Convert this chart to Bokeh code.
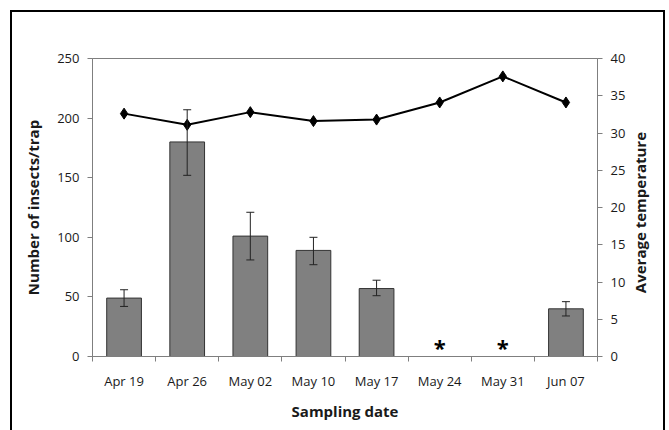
import math
from bokeh.plotting import figure
from bokeh.models import (Range1d, LinearAxis, FixedTicker, ColumnDataSource, Whisker, TeeHead)
from bokeh.core.properties import value
from bokeh.embed import file_html
from bokeh.resources import INLINE

dates = ["Apr 19", "Apr 26", "May 02", "May 10", "May 17", "May 24", "May 31", "Jun 07"]
insects = [49, 180, 101, 89, 57, None, None, 40]
err_low = [42, 152, 81, 77, 51, None, None, 34]
err_high = [56, 207, 121, 100, 64, None, None, 46]
temperature = [32.6, 31.1, 32.8, 31.6, 31.8, 34.1, 37.6, 34.1]
no_data = ["May 24", "May 31"]
left_title = "Number of insects/trap"
right_title = "Average temperature"
x_title = "Sampling date"

FONT = "Open Sans"
AX = "#7f7f7f"
TXT = "#1a1a1a"

xs = [i + 0.5 for i in range(len(dates))]
bar_idx = [i for i, v in enumerate(insects) if v is not None]

p = figure(width=655, height=420, output_backend="svg", toolbar_location=None,
           x_range=Range1d(0, len(dates)), y_range=Range1d(0, 250),
           min_border_left=80, min_border_right=70, min_border_top=46, min_border_bottom=76,
           margin=(10, 0, 0, 10),
           styles={"border-top": "2px solid black", "border-left": "2px solid black",
                   "border-right": "2px solid black", "box-sizing": "border-box"})
p.extra_y_ranges = {"temp": Range1d(0, 40)}
p.xgrid.visible = False
p.ygrid.visible = False
p.outline_line_color = AX
p.outline_line_width = 1

bars = ColumnDataSource(dict(x=[xs[i] for i in bar_idx], top=[insects[i] for i in bar_idx],
                             lo=[err_low[i] for i in bar_idx], hi=[err_high[i] for i in bar_idx]))
p.vbar(x="x", top="top", bottom=0, width=0.55, source=bars, fill_color="#808080",
       line_color="#333333", line_width=1)
w = Whisker(base="x", lower="lo", upper="hi", source=bars, line_color="#222222", line_width=1,
            level="annotation",
            upper_head=TeeHead(size=8, line_color="#222222", line_width=1),
            lower_head=TeeHead(size=8, line_color="#222222", line_width=1))
p.add_layout(w)

p.line(xs, temperature, y_range_name="temp", line_color="black", line_width=2)
p.scatter(xs, temperature, y_range_name="temp", marker="diamond", size=11,
          fill_color="black", line_color="black")

star_x = [xs[dates.index(d)] for d in no_data]
p.text(star_x, [8] * len(star_x), text=["*"] * len(star_x), text_align="center",
       text_baseline="middle", text_font=value(FONT), text_font_size="22px",
       text_font_style="bold", text_color="black")

# x axis
xa = p.xaxis[0]
xa.ticker = FixedTicker(ticks=xs, minor_ticks=list(range(len(dates) + 1)))
xa.major_label_overrides = {x: d for x, d in zip(xs, dates)}
xa.major_tick_out = 0
xa.major_tick_in = 0
xa.minor_tick_out = 5
xa.minor_tick_in = 0
xa.axis_label = x_title

ya = p.yaxis[0]
ya.ticker = FixedTicker(ticks=[0, 50, 100, 150, 200, 250])
ya.axis_label = left_title

yr = LinearAxis(y_range_name="temp", ticker=FixedTicker(ticks=list(range(0, 45, 5))))
p.add_layout(yr, "right")

# right-hand title drawn as a single rotated tick label (reads bottom-to-top)
title_anchor = 8.5
yt = LinearAxis(y_range_name="temp", ticker=FixedTicker(ticks=[title_anchor]))
yt.major_label_overrides = {title_anchor: right_title}
yt.major_label_orientation = math.pi / 2
yt.axis_line_color = None
yt.major_tick_line_color = None
yt.minor_tick_line_color = None
yt.major_tick_out = 0
yt.major_tick_in = 0
yt.major_label_standoff = 12
yt.major_label_text_font = FONT
yt.major_label_text_font_size = "15px"
yt.major_label_text_font_style = "bold"
yt.major_label_text_color = TXT
p.add_layout(yt, "right")

for ax in [xa, ya, yr]:
    ax.axis_line_color = AX
    ax.major_tick_line_color = AX
    ax.minor_tick_line_color = AX if ax is xa else None
    ax.major_label_text_font = FONT
    ax.major_label_text_font_size = "13px"
    ax.major_label_text_color = TXT
    ax.axis_label_text_font = FONT
    ax.axis_label_text_font_size = "15px"
    ax.axis_label_text_font_style = "bold"
    ax.axis_label_text_color = TXT
for ax in [ya, yr]:
    ax.major_tick_out = 5
    ax.major_tick_in = 0
xa.major_label_standoff = 10
xa.axis_label_standoff = 8
ya.major_label_standoff = 8
ya.axis_label_standoff = 11
yr.major_label_standoff = 8

open("out.html", "w").write(file_html(p, INLINE))
